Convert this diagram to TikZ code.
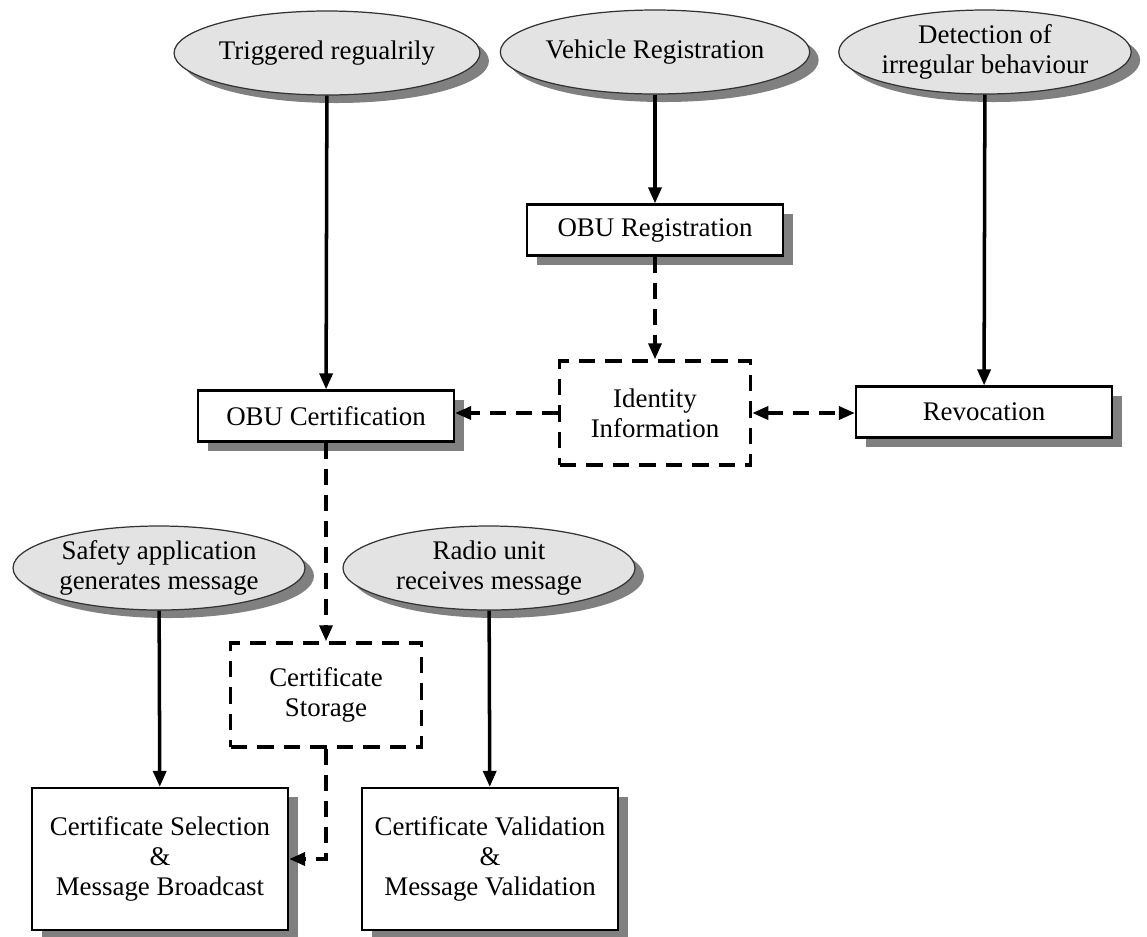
\documentclass[tikz,border=0pt]{standalone}
\usepackage{fontspec}
\setmainfont{Liberation Serif}
\usetikzlibrary{positioning,shapes,arrows.meta,shadows}

\begin{document}
\begin{tikzpicture}[
  font=\fontsize{15.3}{17}\selectfont,
  >={Triangle[length=0.32cm,width=0.26cm]},
  event/.style={ellipse, draw=black!80, line width=0.7pt, fill=black!11,
    minimum width=5.84cm, minimum height=1.68cm, inner sep=0pt, align=center,
    drop shadow={shadow xshift=0.18cm, shadow yshift=-0.16cm, fill=black!50, opacity=1}},
  process/.style={rectangle, draw, line width=1.3pt, fill=white,
    minimum width=5.12cm, minimum height=1.02cm, align=center,
    drop shadow={shadow xshift=0.2cm, shadow yshift=-0.18cm, fill=black!50, opacity=1}},
  store/.style={rectangle, draw, line width=2pt, dash pattern=on 0.33cm off 0.2cm,
    fill=white, minimum width=3.82cm, minimum height=2.08cm, align=center},
  flow/.style={line width=2pt, ->},
  dflow/.style={flow, dash pattern=on 0.32cm off 0.2cm},
]
\useasboundingbox (0,0) rectangle (22.94,-18.72);

% triggers
\node [event] (trig)   at (6.54,-1.06)  {Triggered regualrily};
\node [event] (vreg)   at (13.1,-1.04)  {Vehicle Registration};
\node [event] (detect) at (19.7,-1.04)  {Detection of\\irregular behaviour};
\node [event] (safety) at (3.18,-11.36) {Safety application\\generates message};
\node [event] (radio)  at (9.78,-11.36) {Radio unit\\receives message};

% processes and stores
\node [process] (obureg)  at (13.1,-4.6)  {OBU Registration};
\node [store]   (ident)   at (13.1,-8.26) {Identity\\Information};
\node [process] (obucert) at (6.52,-8.32) {OBU Certification};
\node [process] (revoc)   at (19.68,-8.24) {Revocation};
\node [store]   (storage) at (6.52,-13.9) {Certificate\\Storage};
\node [process, minimum height=2.84cm] (select) at (3.2,-17.18)
  {Certificate Selection\\\&\\Message Broadcast};
\node [process, minimum height=2.84cm] (valid) at (9.8,-17.18)
  {Certificate Validation\\\&\\Message Validation};

% connectors
\draw [flow] (trig) -- (obucert);
\draw [flow] (vreg) -- (obureg);
\draw [flow] (detect) -- (revoc);
\draw [flow] (safety) -- (select);
\draw [flow] (radio) -- (valid);
\draw [dflow] (obureg) -- (ident);
\draw [dflow] (ident.west) -- (ident.west -| obucert.east);
\draw [dflow, <->] (ident.east) -- (ident.east -| revoc.west);
\draw [dflow] (obucert) -- (storage);
\draw [dflow] (storage.south) |- (select.east);
\end{tikzpicture}
\end{document}
